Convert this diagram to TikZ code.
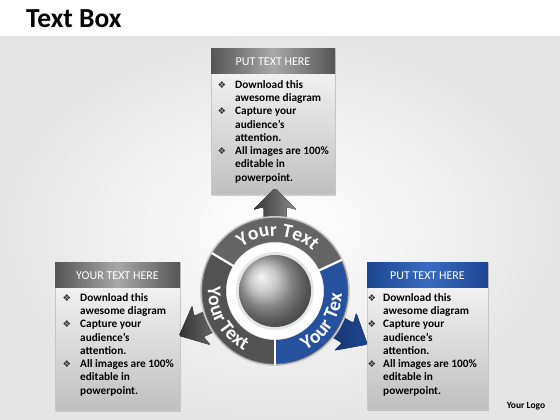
\documentclass[tikz,border=0pt]{standalone}
\usepackage{fontspec}
\setmainfont{Carlito}
\newfontfamily\dejavu{DejaVu Sans}
\usetikzlibrary{decorations.text,shadows}
\definecolor{hdrdark}{HTML}{555555}
\definecolor{hdrlight}{HTML}{A8A8A8}
\definecolor{bluedark}{HTML}{1D4690}
\definecolor{bluelight}{HTML}{3A6BC0}
\definecolor{segtop}{HTML}{646464}
\definecolor{segleft}{HTML}{525252}
\definecolor{segright}{HTML}{25519E}
\definecolor{bodytop}{HTML}{FBFBFB}
\definecolor{bodybot}{HTML}{C0C0C0}
\newcommand{\ringfont}{\fontsize{19.5}{24}\selectfont\bfseries\color{white}}
\newcommand{\bulletlist}[4]{%
  \foreach \bb/\tx [count=\i] in {1/Download this, 0/awesome diagram, 1/Capture your, 0/audience’s, 0/attention., 1/All images are 100\%, 0/editable in, 0/powerpoint.}{
    \node[linetext] (#1t\i) at (#3, {#4-(\i-1)*13.25}) {\tx};
    \ifnum\bb=1 \node[bulletmark] (#1b\i) at (#2, {#4-(\i-1)*13.25+0.3}) {❖};\fi
  }}
\newcommand{\blockarrow}[4]{%
  \begin{scope}[rotate=#1]
    \fill[left color=#2, right color=#3, rounded corners=1.5pt]
      (55,-11.5) -- (84,-11.5) -- (81,-22) -- (#4,0) -- (81,22) -- (84,11.5) -- (55,11.5) -- cycle;
  \end{scope}}
\begin{document}
\begin{tikzpicture}[x=1pt,y=1pt,
  bodybox/.style={top color=bodytop, bottom color=bodybot, draw=black!22, line width=0.4pt,
    drop shadow={shadow xshift=1.2pt, shadow yshift=-1.8pt, opacity=0.35}},
  greyhead/.style={left color=hdrdark, right color=hdrdark, middle color=hdrlight},
  bluehead/.style={left color=bluedark, right color=bluedark, middle color=bluelight},
  hdrtext/.style={font=\fontsize{12}{14}\selectfont, text=white, inner sep=0pt},
  linetext/.style={font=\fontsize{11.3}{13}\selectfont\bfseries, text=black, inner sep=0pt, anchor=base west},
  bulletmark/.style={font=\dejavu\fontsize{9.5}{11}\selectfont, text=black!80, inner sep=0pt, anchor=base}]
\useasboundingbox (0,0) rectangle (560,420);
% background
\fill[white] (0,0) rectangle (560,420);
\shade[inner color=white, outer color=black!10] (0,0) rectangle (560,383);
% title and logo
\node[anchor=base west, font=\fontsize{27.5}{32}\selectfont\bfseries, inner sep=0pt] (title) at (26,392) {Text Box};
\node[anchor=base, font=\fontsize{9.5}{11}\selectfont\bfseries, inner sep=0pt] (logo) at (526,11) {Your Logo};
% top box
\path[bodybox] (211,226) rectangle (335,371);
\path[greyhead] (211,346) rectangle (335,371);
\node[hdrtext] (toph) at (273,358.5) {PUT TEXT HERE};
\bulletlist{top}{222}{235}{331.5}
% left box
\path[bodybox] (55,10) rectangle (180,157);
\path[greyhead] (55,132) rectangle (180,157);
\node[hdrtext] (lefth) at (117.5,144.5) {YOUR TEXT HERE};
\bulletlist{left}{67}{80}{118.5}
% right box
\path[bodybox] (367,11) rectangle (488,157);
\path[bluehead] (367,132) rectangle (488,157);
\node[hdrtext] (righth) at (427.5,144.5) {PUT TEXT HERE};
\bulletlist{right}{372}{383}{118.5}
% wheel
\begin{scope}[shift={(275,129)}]
  \blockarrow{90}{black!80}{black!45}{103}
  \blockarrow{205}{black!80}{black!50}{106}
  \blockarrow{-30}{bluedark!70!black}{bluedark}{107}
  \fill[black!20] (0,0) circle (75);
  \fill[segtop] (25:73) arc[start angle=25, end angle=149, radius=73] -- (149:49) arc[start angle=149, end angle=25, radius=49] -- cycle;
  \fill[segleft] (149:73) arc[start angle=149, end angle=270, radius=73] -- (270:49) arc[start angle=270, end angle=149, radius=49] -- cycle;
  \fill[segright] (270:73) arc[start angle=270, end angle=385, radius=73] -- (25:49) arc[start angle=385, end angle=270, radius=49] -- cycle;
  \draw[black!55, line width=0.8pt] (0,0) circle (73);
  \foreach \a in {25,149,270} \draw[white, line width=2.2pt] (\a:47) -- (\a:74);
  \fill[white] (0,0) circle (48.5);
  \fill[black!10] (0,0) circle (39);
  \shade[ball color=black!28] (0,0) circle (36);
  \path[decorate, decoration={text along path, text align=center, text={|\ringfont|Your Text}}]
    (149:55) arc[start angle=149, end angle=25, radius=55];
  \path[decorate, decoration={text along path, text align=center, text={|\ringfont|Your Text}}]
    (149:67) arc[start angle=149, end angle=270, radius=67];
  \path[decorate, decoration={text along path, text align=center, text={|\ringfont|Your Tex}}]
    (270:67) arc[start angle=270, end angle=385, radius=67];
\end{scope}
\end{tikzpicture}
\end{document}
